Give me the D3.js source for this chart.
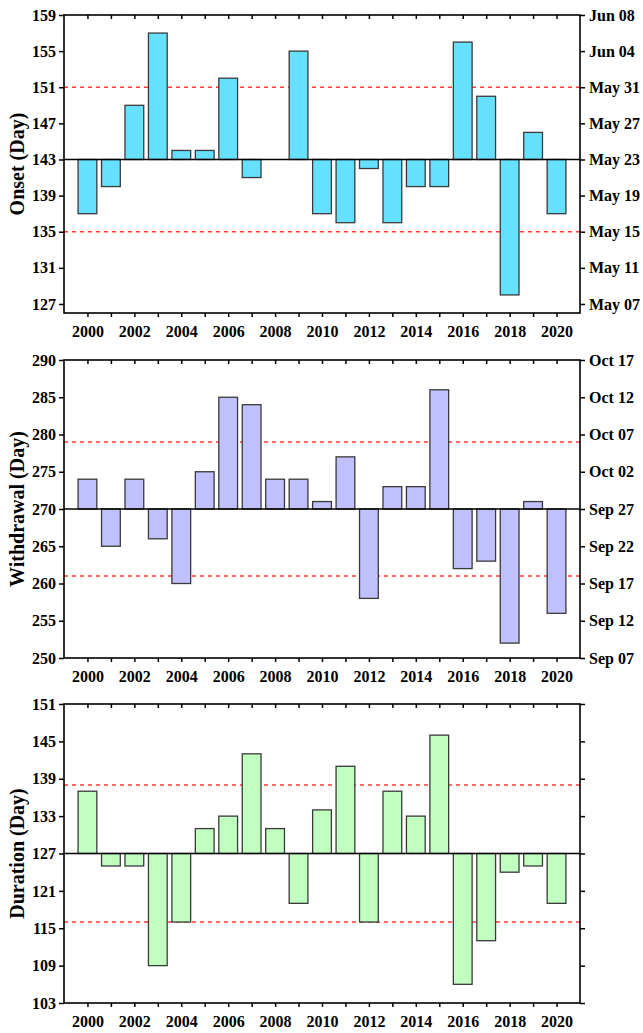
<!DOCTYPE html>
<html>
<head>
<meta charset="utf-8">
<script src="https://cdn.jsdelivr.net/npm/d3@7"></script>
<style>
  html, body { margin: 0; padding: 0; background: #fff; }
  svg { display: block; }
  text { font-family: "Liberation Serif", "Times New Roman", serif; font-weight: bold; fill: #000; }
</style>
</head>
<body>
<script>
// ---- data ----
const years = d3.range(2000, 2021);
const onset = [137,140,149,157,144,144,152,141,143,155,137,136,142,136,140,140,156,150,128,146,137];
const withdrawal = [274,265,274,266,260,275,285,284,274,274,271,277,258,273,273,286,262,263,252,271,256];
const duration = [137,125,125,109,116,131,133,143,131,119,134,141,116,137,133,146,106,113,124,125,119];

const onsetTicks = [127,131,135,139,143,147,151,155,159];
const onsetDates = ["May 07","May 11","May 15","May 19","May 23","May 27","May 31","Jun 04","Jun 08"];
const withdrawalTicks = [250,255,260,265,270,275,280,285,290];
const withdrawalDates = ["Sep 07","Sep 12","Sep 17","Sep 22","Sep 27","Oct 02","Oct 07","Oct 12","Oct 17"];
const durationTicks = [103,109,115,121,127,133,139,145,151];

const panels = [
  { title: "Onset (Day)", values: onset, base: 143, domain: [126, 159], ticks: onsetTicks, right: onsetDates,
    dashed: [151, 135], fill: "#66e0ff", top: 15, bottom: 313 },
  { title: "Withdrawal (Day)", values: withdrawal, base: 270, domain: [250, 290], ticks: withdrawalTicks, right: withdrawalDates,
    dashed: [279, 261], fill: "#c0c0ff", top: 360, bottom: 658 },
  { title: "Duration (Day)", values: duration, base: 127, domain: [103, 151], ticks: durationTicks, right: null,
    dashed: [138, 116], fill: "#c0ffc0", top: 704, bottom: 1003 }
];

const W = 643, H = 1033;
const left = 64, right = 580;
const svg = d3.select("body").append("svg").attr("width", W).attr("height", H);

const x = d3.scaleLinear().domain([1999, 2021]).range([left, right]);
const barW = (x(2001) - x(2000)) * 0.8;

panels.forEach(p => {
  const y = d3.scaleLinear().domain(p.domain).range([p.bottom, p.top]);
  const g = svg.append("g");

  // dashed reference lines
  g.selectAll("line.dash").data(p.dashed).enter().append("line")
    .attr("x1", left).attr("x2", right)
    .attr("y1", d => y(d)).attr("y2", d => y(d))
    .attr("stroke", "#ff3b3b").attr("stroke-width", 1.6).attr("stroke-dasharray", "4,4");

  // bars
  g.selectAll("rect.bar").data(years.map((yr, i) => ({ yr, v: p.values[i] })).filter(d => d.v !== p.base))
    .enter().append("rect")
    .attr("x", d => x(d.yr) - barW / 2)
    .attr("width", barW)
    .attr("y", d => y(Math.max(d.v, p.base)))
    .attr("height", d => Math.abs(y(d.v) - y(p.base)))
    .attr("fill", p.fill).attr("stroke", "#3a3a3a").attr("stroke-width", 1.3);

  // baseline
  g.append("line").attr("x1", left).attr("x2", right)
    .attr("y1", y(p.base)).attr("y2", y(p.base))
    .attr("stroke", "#000").attr("stroke-width", 1.6);

  // left axis
  const ax = g.append("g").attr("transform", `translate(${left},0)`)
    .call(d3.axisLeft(y).tickValues(p.ticks).tickSize(5).tickPadding(3).tickFormat(d3.format("d")));
  // right axis
  const rAxis = d3.axisRight(y).tickValues(p.ticks).tickSize(5).tickPadding(4);
  if (p.right) rAxis.tickFormat((d, i) => p.right[i]); else rAxis.tickFormat("");
  const ar = g.append("g").attr("transform", `translate(${right},0)`).call(rAxis);
  // bottom axis
  const ab = g.append("g").attr("transform", `translate(0,${p.bottom})`)
    .call(d3.axisBottom(x).tickValues(years).tickSize(4).tickPadding(9)
      .tickFormat(d => (d % 2 === 0 ? String(d) : "")));
  // top axis (inward ticks)
  const at = g.append("g").attr("transform", `translate(0,${p.top})`)
    .call(d3.axisBottom(x).tickValues(years).tickSize(4).tickFormat(""));

  [ax, ar, ab, at].forEach(a => {
    a.select(".domain").remove();
    a.selectAll(".tick line").attr("stroke", "#000").attr("stroke-width", 1.5);
    a.selectAll("text").attr("font-size", 16).attr("font-family", "Liberation Serif").attr("font-weight", "bold");
  });

  // frame
  g.append("rect").attr("x", left).attr("y", p.top).attr("width", right - left).attr("height", p.bottom - p.top)
    .attr("fill", "none").attr("stroke", "#000").attr("stroke-width", 1.6);

  // y title
  g.append("text")
    .attr("transform", `translate(17,${(p.top + p.bottom) / 2}) rotate(-90)`)
    .attr("text-anchor", "middle").attr("dominant-baseline", "central")
    .attr("font-size", 20).text(p.title);
});
</script>
</body>
</html>
